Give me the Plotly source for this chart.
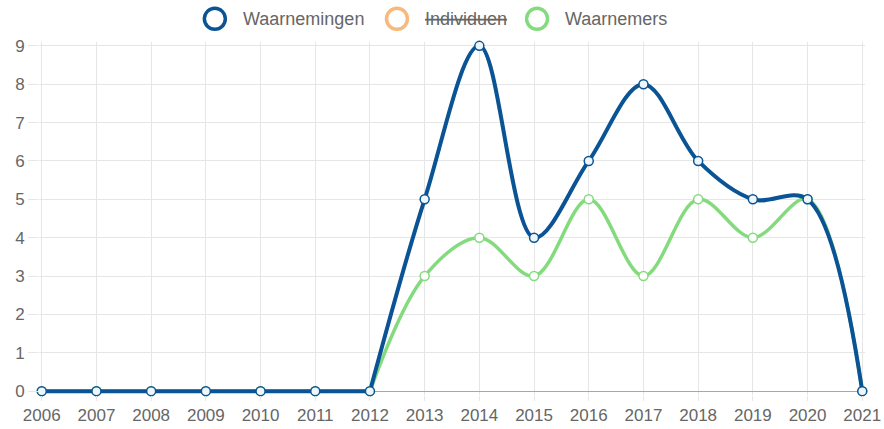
import plotly.graph_objects as go

years = list(range(2006, 2022))
waarnemingen = [0, 0, 0, 0, 0, 0, 0, 5, 9, 4, 6, 8, 6, 5, 5, 0]
waarnemers = [0, 0, 0, 0, 0, 0, 0, 3, 4, 3, 5, 3, 5, 4, 5, 0]
y_ticks = list(range(0, 10))
legend_labels = ["Waarnemingen", "<s>Individuen</s>", "Waarnemers"]

BLUE = "#0a5394"
GREEN = "#84db7e"
ORANGE = "#f8b97c"
GRID = "#e6e6e6"
TXT = "#666666"

W, H = 884, 429
X0_PIX, X1_PIX = 42, 862     # pixel of 2006 / 2021
Y0_PIX, Y9_PIX = 391, 46     # pixel of 0 / 9
XPAD, YPAD = 0.05, 0.1
xppu = (X1_PIX - X0_PIX) / 15
yppu = (Y0_PIX - Y9_PIX) / 9
L = X0_PIX - XPAD * xppu
R = W - (X1_PIX + XPAD * xppu)
T = Y9_PIX - YPAD * yppu
B = H - (Y0_PIX + YPAD * yppu)
PW, PH = W - L - R, H - T - B

def px(x):
    return (x - L) / PW

def py(y):
    return (H - B - y) / PH

n_flat = 7  # leading points drawn straight (2006-2012)

fig = go.Figure()

for ys, col, lw, mfill in [(waarnemers, GREEN, 3.5, "white"), (waarnemingen, BLUE, 4, "#eef6fb")]:
    fig.add_trace(go.Scatter(
        x=years[:n_flat], y=ys[:n_flat], mode="lines", showlegend=False,
        line=dict(color=col, width=lw), hoverinfo="skip"))
    fig.add_trace(go.Scatter(
        x=years[n_flat - 1:], y=ys[n_flat - 1:], mode="lines", showlegend=False,
        line=dict(color=col, width=lw, shape="spline", smoothing=1.0), hoverinfo="skip"))
    fig.add_trace(go.Scatter(
        x=years, y=ys, mode="markers", showlegend=False,
        marker=dict(size=9, color=mfill, line=dict(color=col, width=1.5)),
        cliponaxis=False))

# custom legend (circle + text)
legend_items = [(215, 241, BLUE), (397, 423, ORANGE), (537, 563, GREEN)]
for (cx, tx, col), lab in zip(legend_items, legend_labels):
    fig.add_shape(type="circle", xref="paper", yref="paper",
                  xsizemode="pixel", ysizemode="pixel",
                  xanchor=px(cx), yanchor=py(19),
                  x0=-10.5, x1=10.5, y0=-10.5, y1=10.5,
                  line=dict(color=col, width=3.5), fillcolor="rgba(0,0,0,0)")
    fig.add_annotation(x=px(tx), y=py(19), xref="paper", yref="paper",
                       text=lab, showarrow=False, xanchor="left", yanchor="middle",
                       font=dict(size=18, color=TXT))

fig.update_layout(
    width=W, height=H,
    margin=dict(l=L, r=R, t=T, b=B, pad=0),
    paper_bgcolor="white", plot_bgcolor="white",
    font=dict(family="Liberation Sans, Arial, sans-serif", size=17, color=TXT),
    showlegend=False,
    xaxis=dict(range=[2006 - XPAD, 2021 + XPAD], tickmode="array", tickvals=years,
               ticktext=[str(y) for y in years], showgrid=True, gridcolor=GRID,
               gridwidth=1, zeroline=False, ticks="outside", ticklen=5,
               tickcolor=GRID, showline=False, automargin=False,
               ticklabeloverflow="allow",
               tickfont=dict(size=17, color=TXT)),
    yaxis=dict(range=[-YPAD, 9 + YPAD], tickmode="array", tickvals=y_ticks, showgrid=True,
               gridcolor=GRID, gridwidth=1, zeroline=True, zerolinecolor="#a8a8a8",
               zerolinewidth=1, ticks="outside", ticklen=10, tickcolor=GRID,
               showline=False, automargin=False,
               tickfont=dict(size=17, color=TXT)),
)

fig.write_html("out.html",
               config={"displayModeBar": False},
               post_script="document.body.style.margin='0px';document.body.style.overflow='hidden';")
